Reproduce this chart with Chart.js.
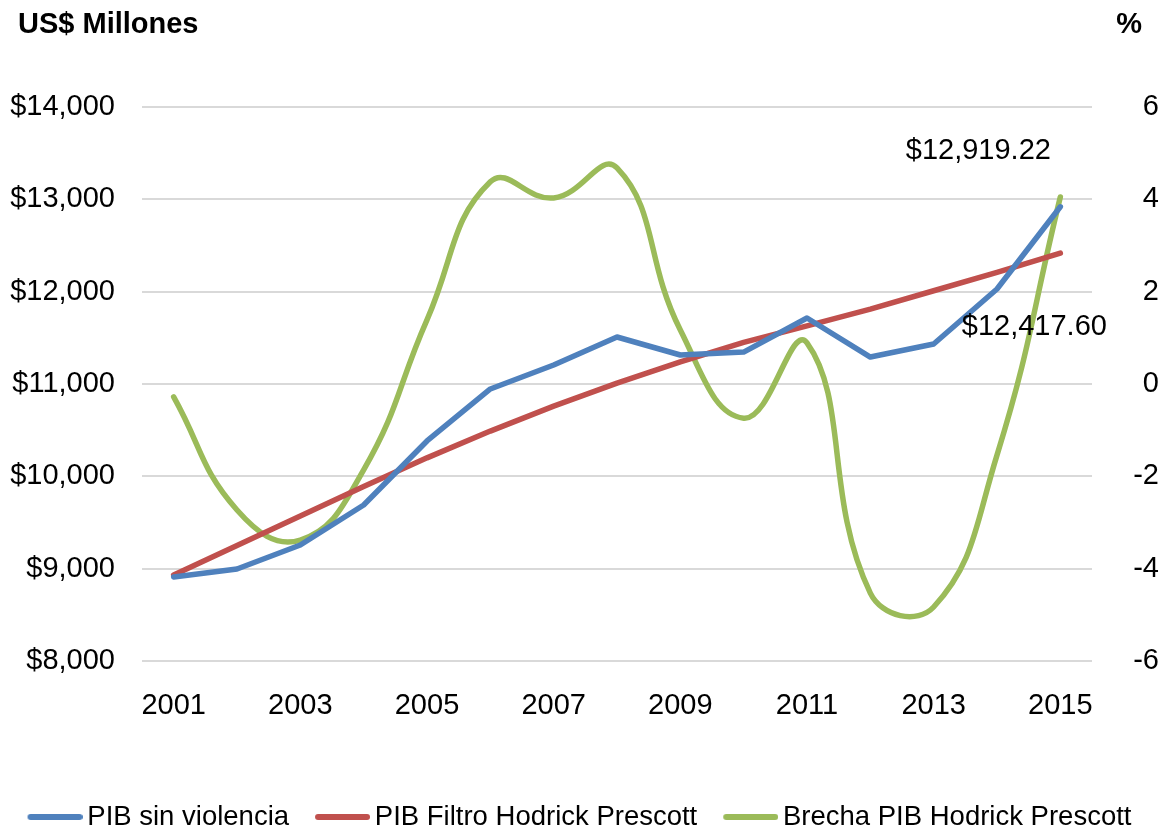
<!DOCTYPE html>
<html>
<head>
<meta charset="utf-8">
<script src="https://cdn.jsdelivr.net/npm/chart.js@4.4.1/dist/chart.umd.min.js"></script>
<style>
  html, body { margin: 0; padding: 0; background: #ffffff; }
  #wrap { width: 1159px; height: 832px; position: relative; }
</style>
</head>
<body>
<div id="wrap"><canvas id="c" width="1159" height="832"></canvas></div>
<script>
const years = ['2001','2002','2003','2004','2005','2006','2007','2008','2009','2010','2011','2012','2013','2014','2015'];
const pibSinViolencia = [8910, 8996, 9256, 9689, 10383, 10946, 11206, 11509, 11314, 11346, 11715, 11292, 11433, 12029, 12919.22];
const pibFiltroHP = [8931, 9250, 9570, 9890, 10200, 10490, 10760, 11010, 11240, 11450, 11630, 11810, 12010, 12210, 12417.60];
const brechaHP = [-0.28, -2.73, -3.38, -1.86, 1.39, 4.38, 4.03, 4.68, 1.17, -0.74, 0.89, -4.53, -4.83, -1.54, 4.05];
const leftTitle = 'US$ Millones';
const rightTitle = '%';
const seriesNames = ['PIB sin violencia', 'PIB Filtro Hodrick Prescott', 'Brecha PIB Hodrick Prescott'];
const seriesColors = ['#4F81BD', '#C0504D', '#9BBB59'];

const FONT = "'Liberation Sans', Arial, sans-serif";
const fmtMoney = v => '$' + v.toLocaleString('en-US');
const fmtMoney2 = v => '$' + v.toLocaleString('en-US', {minimumFractionDigits: 2, maximumFractionDigits: 2});

// legend marker images: a thick line, shifted so it sits close to the text
function makeMarker(color) {
  const c = document.createElement('canvas');
  c.width = 64; c.height = 10;
  const g = c.getContext('2d');
  g.strokeStyle = color; g.lineWidth = 6; g.lineCap = 'round';
  g.beginPath(); g.moveTo(12, 5); g.lineTo(61, 5); g.stroke();
  return c;
}
const markers = seriesColors.map(makeMarker);

const LEG_PAD = 26;
const LEG_FONT = 27.5;
const decorPlugin = {
  id: 'decor',
  afterLayout(chart) {
    const lg = chart.legend;
    if (lg) {
      const h = lg.bottom - lg.top;
      lg.top = 815 - LEG_PAD - LEG_FONT / 2 + 2;
      lg.bottom = lg.top + h;
    }
  },
  afterDatasetsDraw(chart) {
    const ctx = chart.ctx;
    ctx.save();
    ctx.fillStyle = '#000';
    ctx.font = 'bold 29px ' + FONT;
    ctx.textBaseline = 'middle';
    ctx.textAlign = 'left';
    ctx.fillText(leftTitle, 18, 25);
    ctx.textAlign = 'right';
    ctx.fillText(rightTitle, 1142, 25);
    ctx.font = '29px ' + FONT;
    ctx.textAlign = 'center';
    const m0 = chart.getDatasetMeta(0).data;
    const p0 = m0[m0.length - 1];
    ctx.fillText(fmtMoney2(pibSinViolencia[pibSinViolencia.length - 1]), p0.x - 82, p0.y - 56);
    const m1 = chart.getDatasetMeta(1).data;
    const p1 = m1[m1.length - 1];
    ctx.fillText(fmtMoney2(pibFiltroHP[pibFiltroHP.length - 1]), p1.x - 26, p1.y + 74);
    ctx.restore();
  }
};

new Chart(document.getElementById('c'), {
  type: 'line',
  data: {
    labels: years,
    datasets: [
      { label: seriesNames[0], data: pibSinViolencia, yAxisID: 'y', borderColor: seriesColors[0], backgroundColor: seriesColors[0], borderWidth: 5.5, pointRadius: 0, tension: 0, borderJoinStyle: 'round', borderCapStyle: 'round', pointStyle: markers[0] },
      { label: seriesNames[1], data: pibFiltroHP, yAxisID: 'y', borderColor: seriesColors[1], backgroundColor: seriesColors[1], borderWidth: 5.5, pointRadius: 0, tension: 0, borderJoinStyle: 'round', borderCapStyle: 'round', pointStyle: markers[1] },
      { label: seriesNames[2], data: brechaHP, yAxisID: 'y2', borderColor: seriesColors[2], backgroundColor: seriesColors[2], borderWidth: 5.5, pointRadius: 0, tension: 0.45, borderCapStyle: 'round', pointStyle: markers[2] }
    ]
  },
  options: {
    responsive: false,
    animation: false,
    devicePixelRatio: 1,
    layout: { padding: { top: 107, left: 0, right: 0, bottom: 0 } },
    plugins: {
      tooltip: { enabled: false },
      legend: {
        position: 'bottom',
        labels: {
          usePointStyle: true,
          pointStyleWidth: 46,
          padding: LEG_PAD,
          color: '#000',
          font: { family: FONT, size: LEG_FONT }
        }
      }
    },
    scales: {
      x: {
        offset: true,
        grid: { display: false, drawTicks: false },
        border: { display: false },
        ticks: {
          autoSkip: false, maxRotation: 0, padding: 28, color: '#000',
          font: { family: FONT, size: 29 },
          callback: function(v, i) { return i % 2 === 0 ? years[i] : ''; }
        },
        afterFit(s) { s.height = 832 - 661 - (s.chart.legend ? s.chart.legend.height : 48); }
      },
      y: {
        position: 'left',
        min: 8000, max: 14000,
        grid: { color: '#D9D9D9', lineWidth: 2, drawTicks: false },
        border: { display: false },
        ticks: { stepSize: 1000, padding: 27, color: '#000', font: { family: FONT, size: 29 }, callback: v => fmtMoney(v) },
        afterFit(s) { s.width = 142; }
      },
      y2: {
        position: 'right',
        min: -6, max: 6,
        grid: { drawOnChartArea: false, drawTicks: false },
        border: { display: false },
        ticks: { stepSize: 2, padding: 14, crossAlign: 'far', color: '#000', font: { family: FONT, size: 29 } },
        afterFit(s) { s.width = 1159 - 1092; }
      }
    }
  },
  plugins: [decorPlugin]
});
</script>
</body>
</html>
